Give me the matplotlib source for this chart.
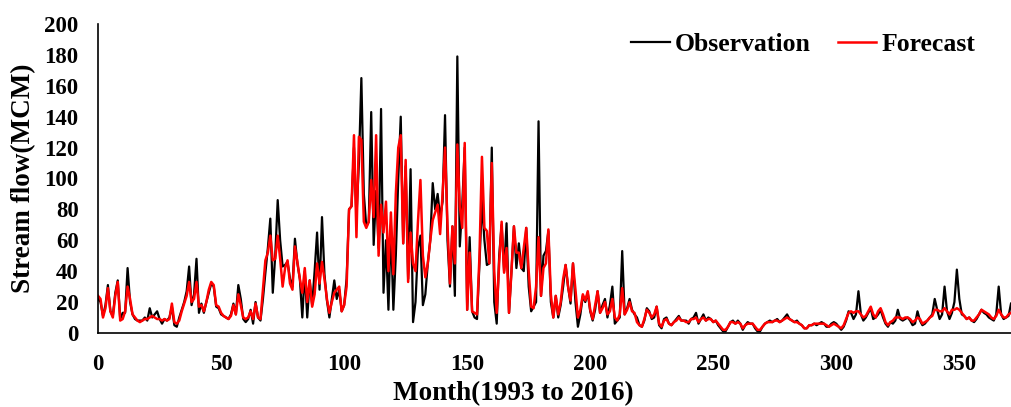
import numpy as np
import matplotlib.pyplot as plt

# monthly stream flow, observed vs forecast (MCM)
observation = [
    22, 20, 11, 18, 31, 14, 11, 26, 34, 9,
    13, 13, 42, 20, 12, 9, 8, 8, 8,
    10, 8, 16, 10, 12, 14, 9, 6, 9, 8,
    10, 17, 5, 4, 10, 15, 20, 27, 43,
    18, 25, 48, 13, 19, 13, 20, 26, 32, 30,
    17, 16, 12, 11, 10, 9, 12, 19, 12,
    31, 22, 9, 7, 9, 15, 6, 20, 10, 8,
    22, 39, 55, 74, 26, 50, 86, 60, 43,
    44, 46, 35, 30, 61, 45, 35, 10, 40, 10,
    34, 18, 40, 65, 28, 75, 38, 21, 10,
    22, 34, 22, 28, 14, 18, 35, 80, 82,
    120, 75, 110, 165, 90, 69, 72, 143, 57, 92,
    55, 145, 26, 60, 15, 70, 15, 50, 100, 140,
    58, 108, 35, 106, 7, 20, 55, 63, 18,
    25, 45, 60, 97, 80, 90, 75, 85, 141, 60,
    30, 69, 24, 179, 56, 83, 120, 15, 62,
    14, 10, 9, 45, 86, 60, 44, 45, 120, 20,
    6, 50, 70, 40, 71, 13, 40, 69, 42,
    58, 42, 40, 68, 30, 14, 17, 20, 137, 24,
    50, 53, 66, 20, 10, 24, 10, 18, 30,
    44, 30, 19, 45, 20, 4, 12, 24, 20, 26,
    14, 8, 15, 27, 13, 18, 22, 10, 18,
    30, 6, 8, 10, 53, 12, 16, 22, 15, 12,
    10, 5, 4, 8, 16, 14, 9, 10, 17,
    5, 3, 9, 10, 6, 5, 7, 9, 11, 8,
    8, 8, 6, 9, 10, 13, 6, 9, 12,
    8, 10, 9, 7, 8, 5, 3, 1, 1, 4,
    7, 8, 6, 8, 6, 2, 5, 7, 6,
    6, 3, 1, 1, 4, 6, 7, 8, 7, 8,
    9, 7, 8, 10, 12, 9, 8, 7, 8,
    6, 5, 3, 3, 5, 5, 6, 5, 6, 7,
    6, 4, 4, 6, 7, 6, 4, 2, 4,
    8, 14, 13, 9, 12, 27, 12, 8, 10, 13,
    16, 9, 10, 12, 15, 10, 6, 4, 7,
    6, 8, 15, 9, 8, 9, 10, 8, 5, 6,
    14, 8, 5, 6, 8, 10, 12, 22, 15, 9,
    12, 30, 14, 9, 13, 20, 41, 22, 12,
    11, 9, 10, 8, 7, 9, 12, 15, 13,
    12, 10, 9, 8, 12, 30, 12, 9, 10, 11,
    19,
]

forecast = [
    24, 22, 10, 16, 29, 14, 10, 24, 33, 8,
    9, 14, 30, 22, 12, 10, 8, 7, 8,
    9, 9, 10, 11, 10, 9, 9, 8, 9, 8,
    9, 19, 7, 6, 8, 14, 19, 24, 33,
    20, 22, 33, 17, 18, 14, 20, 28, 33, 31,
    18, 17, 13, 11, 10, 9, 11, 18, 12,
    25, 18, 10, 9, 10, 14, 9, 19, 10, 9,
    28, 47, 52, 63, 47, 48, 63, 48, 30,
    42, 47, 32, 28, 56, 46, 35, 26, 42, 20,
    34, 17, 25, 45, 32, 46, 35, 22, 13,
    20, 26, 28, 30, 14, 18, 30, 80, 82,
    128, 62, 127, 125, 72, 68, 72, 99, 75, 128,
    50, 83, 65, 85, 40, 78, 38, 90, 120, 128,
    58, 112, 33, 65, 45, 40, 72, 99, 50,
    36, 45, 60, 73, 78, 83, 64, 90, 120, 70,
    32, 69, 45, 122, 82, 68, 123, 15, 52,
    14, 13, 12, 50, 114, 68, 66, 45, 110, 40,
    13, 45, 72, 39, 55, 13, 40, 69, 52,
    52, 42, 55, 68, 40, 17, 16, 30, 62, 24,
    42, 45, 67, 25, 10, 24, 12, 20, 35,
    44, 30, 21, 45, 28, 10, 15, 25, 21, 27,
    15, 9, 18, 27, 13, 16, 20, 12, 14,
    22, 10, 8, 12, 29, 12, 15, 20, 14, 13,
    7, 5, 4, 9, 15, 13, 10, 12, 17,
    6, 4, 8, 9, 6, 5, 7, 8, 10, 8,
    8, 7, 7, 9, 9, 10, 7, 9, 10,
    8, 9, 9, 7, 8, 6, 4, 2, 2, 4,
    7, 7, 6, 7, 6, 3, 5, 6, 6,
    6, 4, 2, 2, 4, 6, 7, 7, 7, 8,
    8, 7, 8, 9, 10, 9, 8, 7, 7,
    6, 5, 3, 3, 5, 5, 6, 6, 6, 6,
    6, 5, 4, 5, 6, 5, 4, 3, 5,
    9, 13, 14, 13, 14, 14, 12, 10, 11, 14,
    17, 12, 10, 14, 16, 12, 7, 5, 7,
    8, 10, 10, 10, 9, 10, 10, 9, 7, 8,
    10, 9, 6, 7, 8, 10, 11, 15, 15, 14,
    14, 16, 14, 12, 15, 15, 16, 15, 13,
    11, 9, 10, 8, 8, 10, 12, 15, 14,
    13, 12, 10, 9, 11, 15, 12, 10, 10, 12,
    13,
]

months = np.arange(len(observation))

plt.rcParams['font.family'] = 'Liberation Serif'
plt.rcParams['font.weight'] = 'bold'

fig, ax = plt.subplots(figsize=(10.11, 4.07), dpi=100)
fig.subplots_adjust(left=0.097, right=1.0, bottom=0.182, top=0.941)

ax.plot(months, observation, color='black', lw=1.6, label='Observation')
ax.plot(months, forecast, color='red', lw=1.8, label='Forecast')

ax.set_xlim(0, 371)
ax.set_ylim(0, 200)
ax.set_xticks(np.arange(0, 351, 50))
ax.set_yticks(np.arange(0, 201, 20))
ax.tick_params(axis='both', length=0, labelsize=16.5)
ax.tick_params(axis='y', pad=14)
ax.tick_params(axis='x', pad=15)

for side in ['top', 'right']:
    ax.spines[side].set_visible(False)
for side in ['left', 'bottom']:
    ax.spines[side].set_linewidth(1.2)

ax.set_xlabel('Month(1993 to 2016)', fontsize=19.5, fontweight='bold')
ax.xaxis.set_label_coords(0.4545, -0.155)
ax.set_ylabel('Stream flow(MCM)', fontsize=19.5, fontweight='bold', labelpad=6)

ax.legend(loc='center right', bbox_to_anchor=(0.961, 0.935), ncol=2, frameon=False,
          fontsize=18.5, handlelength=1.5, handletextpad=0.2, columnspacing=1.05,
          borderpad=0, borderaxespad=0)

plt.savefig('out.png', dpi=100)
